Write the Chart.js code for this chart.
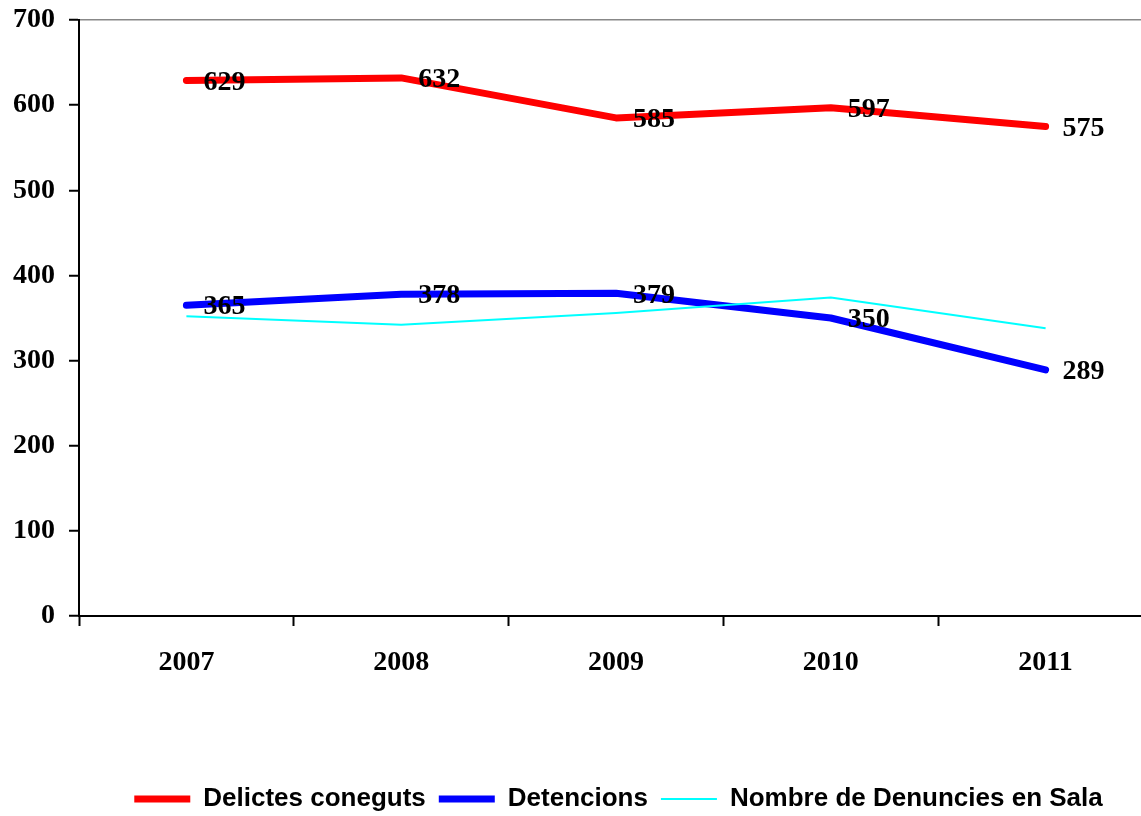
<!DOCTYPE html>
<html><head><meta charset="utf-8">
<script src="https://cdn.jsdelivr.net/npm/chart.js@4/dist/chart.umd.min.js"></script>
<style>html,body{margin:0;padding:0;background:#fff;overflow:hidden;}#wrap{width:1155px;height:816px;}</style>
</head><body><div id="wrap"><canvas id="c" width="1155" height="816"></canvas></div>
<script>
const years = ['2007', '2008', '2009', '2010', '2011'];
const delictes = [629, 632, 585, 597, 575];
const detencions = [365, 378, 379, 350, 289];
const denuncies = [352, 342, 356, 374, 338];
const seriesNames = ['Delictes coneguts', 'Detencions', 'Nombre de Denuncies en Sala'];
const yMin = 0, yMax = 700, yStep = 100;

const serif = '"Liberation Serif", "Times New Roman", serif';
const sans = '"Liberation Sans", Arial, sans-serif';

const valueLabels = {
  id: 'valueLabels',
  afterDatasetsDraw(chart) {
    const ctx = chart.ctx;
    ctx.save();
    ctx.font = 'bold 28px ' + serif;
    ctx.fillStyle = '#000';
    ctx.textAlign = 'left';
    ctx.textBaseline = 'middle';
    chart.data.datasets.forEach((ds, i) => {
      if (!ds.showValues) return;
      const meta = chart.getDatasetMeta(i);
      meta.data.forEach((pt, j) => {
        ctx.fillText(String(ds.data[j]), pt.x + 17, pt.y + 2);
      });
    });
    ctx.restore();
  }
};

const legendShift = {
  id: 'legendShift',
  afterLayout(chart) {
    const l = chart.legend;
    const dx = 36;
    l.left += dx; l.right += dx;
    const h = l.height;
    l.top = 773; l.bottom = l.top + h;
  }
};

new Chart(document.getElementById('c'), {
  type: 'line',
  data: {
    labels: years,
    datasets: [
      { label: seriesNames[0], data: delictes, borderColor: '#FF0000', backgroundColor: '#FF0000', pointBorderColor: '#FF0000',
        borderWidth: 7, pointBorderWidth: 7, borderCapStyle: 'round', borderJoinStyle: 'round', pointRadius: 0, tension: 0, order: 3, showValues: true },
      { label: seriesNames[1], data: detencions, borderColor: '#0000FF', backgroundColor: '#0000FF', pointBorderColor: '#0000FF',
        borderWidth: 7, pointBorderWidth: 7, borderCapStyle: 'round', borderJoinStyle: 'round', pointRadius: 0, tension: 0, order: 2, showValues: true },
      { label: seriesNames[2], data: denuncies, borderColor: '#00FFFF', backgroundColor: '#00FFFF', pointBorderColor: '#00FFFF',
        borderWidth: 2, pointBorderWidth: 2, borderCapStyle: 'butt', borderJoinStyle: 'round', pointRadius: 0, tension: 0, order: 1, showValues: false }
    ]
  },
  options: {
    responsive: false,
    animation: false,
    devicePixelRatio: 1,
    layout: { padding: { left: 12, right: 2, top: 20, bottom: 0 } },
    plugins: {
      tooltip: { enabled: false },
      legend: {
        position: 'bottom',
        labels: {
          usePointStyle: true,
          pointStyle: 'line',
          pointStyleWidth: 56,
          padding: 13,
          color: '#000',
          font: { family: sans, size: 26, weight: 'bold' },
          sort: (a, b) => a.datasetIndex - b.datasetIndex
        }
      }
    },
    scales: {
      x: {
        type: 'category',
        offset: true,
        grid: { offset: true, drawOnChartArea: false, color: '#000', tickColor: '#000', tickLength: 10, tickWidth: 2 },
        border: { color: '#000', width: 2 },
        ticks: { color: '#000', padding: 20, font: { family: serif, size: 28, weight: 'bold' }, maxRotation: 0 },
        afterFit(s) { s.height = 151; }
      },
      y: {
        min: yMin, max: yMax,
        ticks: { stepSize: yStep, color: '#000', padding: 14, font: { family: serif, size: 28, weight: 'bold' } },
        grid: {
          color: (c) => (c.tick && c.tick.value === yMax) ? '#888888' : 'rgba(0,0,0,0)',
          lineWidth: 1.5,
          tickColor: '#000', tickLength: 10, tickWidth: 2
        },
        border: { color: '#000', width: 2 },
        afterFit(s) { s.width = 67; s.paddingTop = 0; s.paddingBottom = 0; }
      }
    }
  },
  plugins: [valueLabels, legendShift]
});
</script>
</body></html>
